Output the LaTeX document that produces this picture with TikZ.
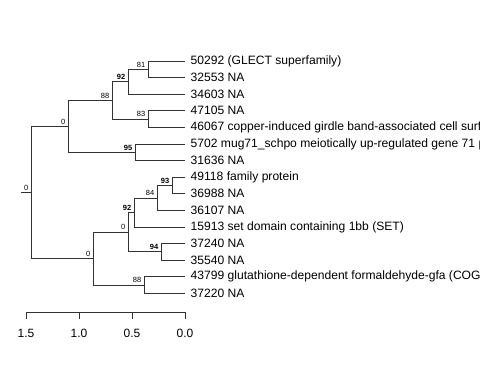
\documentclass[tikz,border=0pt]{standalone}
\usepackage{fontspec}
\setmainfont{Liberation Sans}
\tikzset{
  br/.style={draw=black!80, line width=0.9pt},
  bs/.style={anchor=south east, inner sep=0pt, xshift=-2.5pt, yshift=2pt, font=\fontsize{7.5}{8}\selectfont},
  bsb/.style={bs, font=\fontsize{7.5}{8}\selectfont\bfseries},
  leaf/.style={anchor=west, inner sep=0pt, xshift=5.5pt, font=\fontsize{12.1}{14}\selectfont},
}

\begin{document}
\begin{tikzpicture}[x=1pt,y=-1pt]
  \clip (0,0) rectangle (480,384);
  \foreach \i/\t in {0/{50292 (GLECT superfamily)}, 1/{32553 NA}, 2/{34603 NA}, 3/{47105 NA},
      4/{46067 copper-induced girdle band-associated cell surface protein},
      5/{5702 mug71\_schpo meiotically up-regulated gene 71 protein}, 6/{31636 NA},
      7/{49118 family protein}, 8/{36988 NA}, 9/{36107 NA},
      10/{15913 set domain containing 1bb (SET)}, 11/{37240 NA}, 12/{35540 NA},
      13/{43799 glutathione-dependent formaldehyde-gfa (COG3791)}, 14/{37220 NA}}{
    \coordinate (l\i) at (185,61+16.6*\i);
    \node[leaf] (t\i) at (l\i) {\t};
  }
  \coordinate (root) at (31,192.5);
  \coordinate (stub) at (21,192.5);
  \coordinate (nA) at (68,126.35);
  \coordinate (nC) at (112,100.4);
  \coordinate (nE) at (128,81.75);
  \coordinate (nG) at (148,69.3);
  \coordinate (nF) at (148,119.1);
  \coordinate (nD) at (135,152.3);
  \coordinate (nB) at (93,258.65);
  \coordinate (nH) at (128,232.2);
  \coordinate (nJ) at (134,212.5);
  \coordinate (nL) at (157,197.95);
  \coordinate (nM) at (172,185.5);
  \coordinate (nK) at (161,251.9);
  \coordinate (nI) at (144,285.1);
  \draw[br] (stub) -- (root);
  \draw[br] (root) |- (nA);  \draw[br] (root) |- (nB);
  \draw[br] (nA) |- (nC);    \draw[br] (nA) |- (nD);
  \draw[br] (nC) |- (nE);    \draw[br] (nC) |- (nF);
  \draw[br] (nE) |- (nG);    \draw[br] (nE) |- (l2);
  \draw[br] (nG) |- (l0);    \draw[br] (nG) |- (l1);
  \draw[br] (nF) |- (l3);    \draw[br] (nF) |- (l4);
  \draw[br] (nD) |- (l5);    \draw[br] (nD) |- (l6);
  \draw[br] (nB) |- (nH);    \draw[br] (nB) |- (nI);
  \draw[br] (nH) |- (nJ);    \draw[br] (nH) |- (nK);
  \draw[br] (nJ) |- (nL);    \draw[br] (nJ) |- (l10);
  \draw[br] (nL) |- (nM);    \draw[br] (nL) |- (l9);
  \draw[br] (nM) |- (l7);    \draw[br] (nM) |- (l8);
  \draw[br] (nK) |- (l11);   \draw[br] (nK) |- (l12);
  \draw[br] (nI) |- (l13);   \draw[br] (nI) |- (l14);
  \node[bs] (sroot) at (root) {0};
  \node[bs] (sA) at (nA) {0};
  \node[bs] (sC) at (nC) {88};
  \node[bsb] (sE) at (nE) {92};
  \node[bs] (sG) at (nG) {81};
  \node[bs] (sF) at (nF) {83};
  \node[bsb] (sD) at (nD) {95};
  \node[bs] (sB) at (nB) {0};
  \node[bs] (sH) at (nH) {0};
  \node[bsb] (sJ) at (nJ) {92};
  \node[bs] (sL) at (nL) {84};
  \node[bsb] (sM) at (nM) {93};
  \node[bsb] (sK) at (nK) {94};
  \node[bs] (sI) at (nI) {88};
  \draw[br] (26,312) -- (185,312);
  \foreach \x/\v in {26/1.5, 79/1.0, 132/0.5, 185/0.0}{
    \draw[br] (\x,312) -- (\x,319);
    \node[font=\fontsize{12}{14}\selectfont] (ax\x) at (\x,333) {\v};
  }
\end{tikzpicture}
\end{document}
